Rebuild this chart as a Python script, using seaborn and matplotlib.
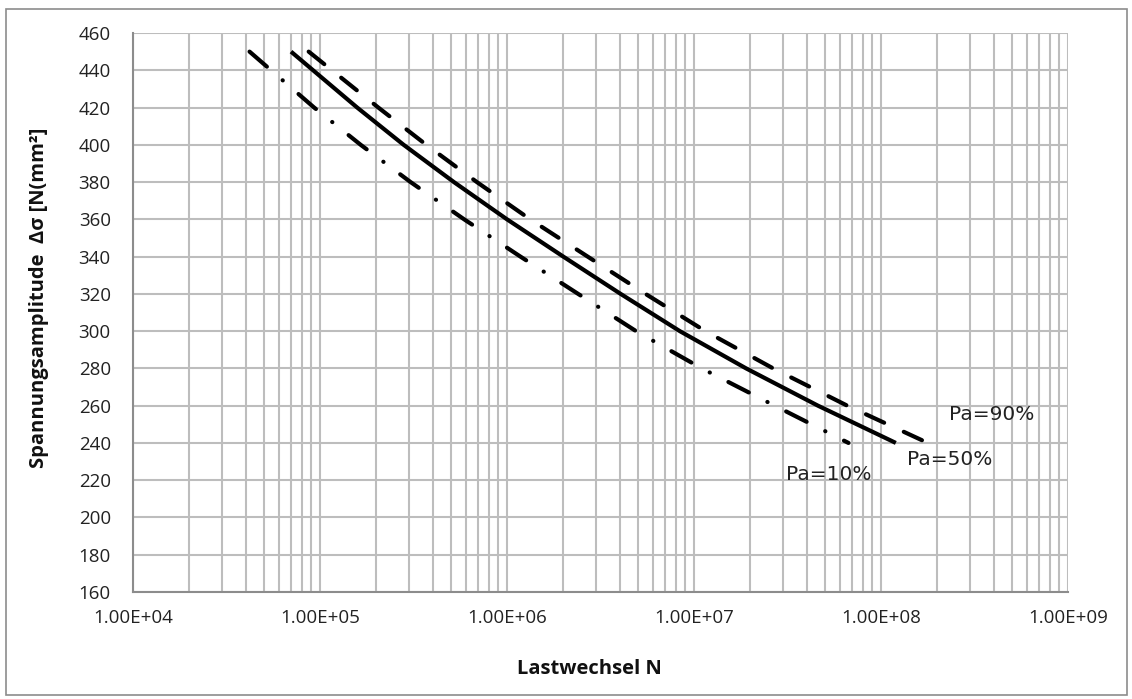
import numpy as np
import pandas as pd
import matplotlib
matplotlib.use("Agg")
import matplotlib.pyplot as plt
from matplotlib.ticker import LogLocator, FixedLocator, NullFormatter, FuncFormatter
from matplotlib.patches import Rectangle
import seaborn as sns

# ---- data ----
stress = [450, 420, 400, 380, 360, 340, 320, 300, 280, 260, 240]
n_pa50 = [7.0e4, 1.58e5, 2.8e5, 5.2e5, 1.0e6, 2.0e6, 4.05e6, 8.4e6, 1.9e7, 4.6e7, 1.2e8]
n_pa90 = [8.7e4, 2.05e5, 3.7e5, 6.9e5, 1.33e6, 2.7e6, 5.5e6, 1.15e7, 2.65e7, 6.6e7, 1.78e8]
n_pa10 = [4.2e4, 9.3e4, 1.65e5, 3.05e5, 5.9e5, 1.18e6, 2.4e6, 4.9e6, 1.1e7, 2.7e7, 6.7e7]
series_names = ["Pa=10%", "Pa=50%", "Pa=90%"]
y_ticks = [160, 180, 200, 220, 240, 260, 280, 300, 320, 340, 360, 380, 400, 420, 440, 460]
x_ticks = [1e4, 1e5, 1e6, 1e7, 1e8, 1e9]
label_x = {"Pa=90%": 2.3e8, "Pa=50%": 1.38e8, "Pa=10%": 3.1e7}
label_y = {"Pa=90%": 255, "Pa=50%": 231, "Pa=10%": 223}

sns.set_style("white")
plt.rcParams["font.family"] = ["Open Sans", "DejaVu Sans"]

fig = plt.figure(figsize=(11.32, 6.99), dpi=100)
ax = fig.add_axes([133 / 1132, 1 - 592 / 699, (1068 - 133) / 1132, (592 - 33) / 699])

lw = 3.0
styles = {
    "Pa=10%": (0, (5.5, 5.0, 0.05, 5.0)),
    "Pa=50%": "-",
    "Pa=90%": (0, (4.8, 5.2)),
}
data = {"Pa=10%": n_pa10, "Pa=50%": n_pa50, "Pa=90%": n_pa90}
for name in series_names:
    df = pd.DataFrame({"N": data[name], "S": stress})
    sns.lineplot(data=df, x="N", y="S", ax=ax, color="black", linewidth=lw,
                 linestyle=styles[name], dash_capstyle="round",
                 solid_capstyle="butt", solid_joinstyle="round",
                 sort=False, legend=False)

ax.set_xscale("log")
ax.set_xlim(1e4, 1e9)
ax.set_ylim(160, 460)
ax.xaxis.set_major_locator(FixedLocator(x_ticks))
ax.xaxis.set_minor_locator(LogLocator(base=10, subs=np.arange(2, 10), numticks=100))
ax.xaxis.set_minor_formatter(NullFormatter())
ax.xaxis.set_major_formatter(FuncFormatter(lambda v, p: "1.00E+%02d" % int(round(np.log10(v)))))
ax.set_yticks(y_ticks)

grid_c = "#bdbdbd"
ax.grid(True, which="major", axis="both", color=grid_c, linewidth=1.5)
ax.grid(True, which="minor", axis="x", color=grid_c, linewidth=1.5)
ax.set_axisbelow(True)

for s in ["top", "right"]:
    ax.spines[s].set_visible(False)
for s in ["left", "bottom"]:
    ax.spines[s].set_color("#8c8c8c")
    ax.spines[s].set_linewidth(1.5)
ax.tick_params(axis="both", which="major", length=7, width=1.5, color="#8c8c8c",
               labelsize=13.5, labelcolor="#222222")
ax.tick_params(axis="y", which="major", pad=9)
ax.tick_params(axis="x", which="major", pad=5)
ax.tick_params(axis="x", which="minor", length=0)

ax.set_xlabel("Lastwechsel N", fontsize=14.5, fontweight="bold", color="#111111")
ax.xaxis.set_label_coords(0.488, -0.12)
ax.set_ylabel("Spannungsamplitude  Δσ [N(mm²]", fontsize=14.5, fontweight="bold",
              color="#111111")
ax.yaxis.set_label_coords(-0.09, 0.527)

# curve labels
for name in series_names:
    ax.text(label_x[name], label_y[name], name, fontsize=14.5, family=["DejaVu Sans"],
            color="#222222", va="center", ha="left")

# outer chart border
fig.patches.append(Rectangle((6 / 1132, 4 / 699), (1127 - 6) / 1132, (690 - 4) / 699,
                             transform=fig.transFigure, fill=False,
                             edgecolor="#8c8c8c", linewidth=1.2))

fig.savefig("out.png", dpi=100)
